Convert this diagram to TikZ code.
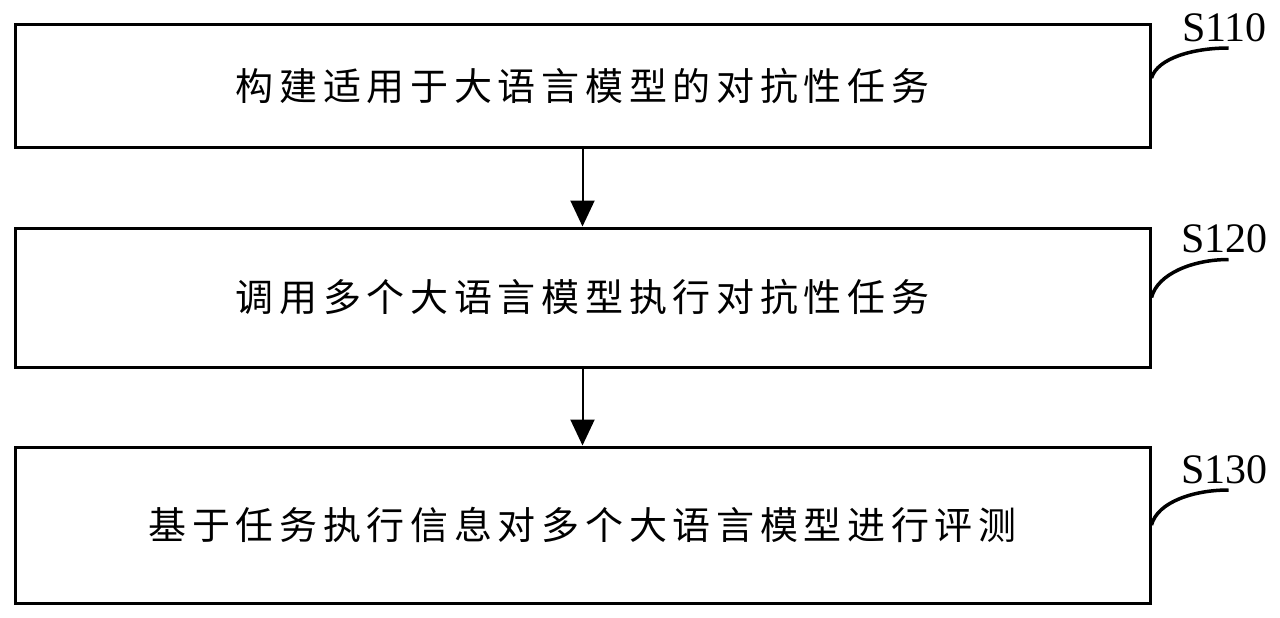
\documentclass[tikz,border=0pt]{standalone}
\usepackage{fontspec}
\setmainfont{Liberation Serif}
\newfontfamily\cjk[LetterSpace=15]{Noto Sans CJK SC}
\usepackage{tikz}
\usetikzlibrary{arrows.meta, positioning}
\tikzstyle{stepbox} = [draw=black, line width=3pt, rectangle, minimum width=1135pt, inner sep=0pt, font=\cjk\fontsize{38}{42}\selectfont]
\tikzstyle{steptag} = [anchor=south, inner sep=0pt, font=\fontsize{42}{46}\selectfont]
\tikzstyle{leader} = [line width=3.5pt]
\tikzstyle{flow} = [line width=2pt, -{Triangle[width=24pt, length=26pt]}]

\begin{document}
\begin{tikzpicture}[x=1pt, y=-1pt]
	\useasboundingbox (0,0) rectangle (1280,618);
	% pasos
	\node [stepbox, minimum height=122pt] (b1) at (582.5,86) {构建适用于大语言模型的对抗性任务};
	\node [stepbox, minimum height=139pt, below=78pt of b1] (b2) {调用多个大语言模型执行对抗性任务};
	\node [stepbox, minimum height=156pt, below=77pt of b2] (b3) {基于任务执行信息对多个大语言模型进行评测};
	\draw[flow] (b1) -- (b2);
	\draw[flow] (b2) -- (b3);
	% etiquetas
	\coordinate (e1) at ([shift={(77,-38)}]b1.east);
	\coordinate (e2) at ([shift={(77,-38)}]b2.east);
	\coordinate (e3) at ([shift={(77,-35)}]b3.east);
	\draw[leader] ([yshift=8pt]b1.east) .. controls +(6,-20) and +(-35,0) .. (e1);
	\draw[leader] (b2.east) .. controls +(6,-24) and +(-35,0) .. (e2);
	\draw[leader] (b3.east) .. controls +(6,-23) and +(-35,0) .. (e3);
	\node[steptag, xshift=-4pt, yshift=6pt] (t1) at (e1) {S110};
	\node[steptag, xshift=-4pt, yshift=6pt] (t2) at (e2) {S120};
	\node[steptag, xshift=-4pt, yshift=6pt] (t3) at (e3) {S130};
\end{tikzpicture}
\end{document}
